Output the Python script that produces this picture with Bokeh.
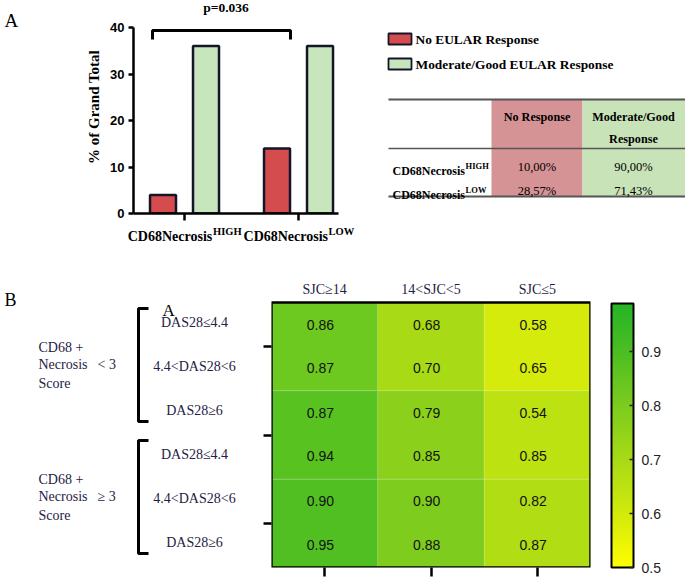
import numpy as np
from bokeh.plotting import figure
from bokeh.layouts import column, row
from bokeh.models import (Range1d, FactorRange, ColumnDataSource, FixedTicker, LinearAxis,
                          LinearColorMapper, ColorBar, PrintfTickFormatter)
from bokeh.transform import dodge, transform
from bokeh.core.properties import value
from bokeh.embed import file_html
from bokeh.resources import INLINE

# ---------------- data ----------------
groups = ["CD68Necrosis", "CD68Necrosis"]
group_sup = ["HIGH", "LOW"]
no_response = [4, 14]
good_response = [36, 36]
legend_labels = ["No EULAR Response", "Moderate/Good EULAR Response"]
p_text = "p=0.036"
y_ticks_a = [0, 10, 20, 30, 40]
table_header = [["No Response"], ["Moderate/Good", "Response"]]
table_no = ["10,00%", "28,57%"]
table_good = ["90,00%", "71,43%"]

sjc_labels = ["SJC\u226514", "14<SJC<5", "SJC\u22645"]
das_labels = ["DAS28\u22644.4", "4.4<DAS28<6", "DAS28\u22656"] * 2
score_labels = ["< 3", "\u2265 3"]
auc = [[0.86, 0.68, 0.58],
       [0.87, 0.70, 0.65],
       [0.87, 0.79, 0.54],
       [0.94, 0.85, 0.85],
       [0.90, 0.90, 0.82],
       [0.95, 0.88, 0.87]]
band_level = [[0.83, 0.70, 0.595],
              [0.875, 0.765, 0.65],
              [0.89, 0.795, 0.68]]
cbar_ticks = [0.5, 0.6, 0.7, 0.8, 0.9]
cbar_low, cbar_high = 0.5, 0.99

# ---------------- styles ----------------
RED = "#d44c4e"
GREEN = "#c8e6bc"
EDGE = "#15152a"
TRED = "#d69395"
TGREEN = "#c8e3b8"
NAVY = "#1f2244"
SERIF = "Liberation Serif"
SANS = "Liberation Sans"
NB = "\u00a0"

# bold Times em widths (for superscript placement)
EM_B = {'H': .778, 'I': .389, 'G': .778, 'L': .667, 'O': .778, 'W': 1.0}
MAIN_EM = 6.05


def canvas(width, height, xr, yr, **kw):
    p = figure(width=width, height=height, x_range=Range1d(*xr), y_range=Range1d(*yr),
               output_backend="svg", toolbar_location=None, min_border_left=0,
               min_border_right=0, min_border_top=0, min_border_bottom=0,
               x_axis_location=None, y_axis_location=None, **kw)
    p.grid.visible = False
    p.outline_line_color = None
    return p


def tick_only(ax, out, width=2.5):
    ax.major_label_text_color = None
    ax.major_label_standoff = 0
    ax.axis_line_color = None
    ax.major_tick_out = out
    ax.major_tick_in = 0
    ax.major_tick_line_width = width
    ax.major_tick_line_color = "black"
    ax.minor_tick_line_color = None


# ================= Panel A: letter =================
pL = canvas(40, 258, (0, 40), (213, 0))
pL.min_border_bottom = 45
pL.text(x=[4], y=[20], text=["A"], text_align="left", text_baseline="alphabetic",
        text_font=value(SERIF), text_font_size="19px", text_color="black")

# ================= Panel A: bar chart =================
PX = 114.0
pA = figure(width=320, height=258, x_range=Range1d(-0.443, 1.355), y_range=Range1d(0, 213 / 4.65),
            output_backend="svg", toolbar_location=None,
            min_border_left=93, min_border_right=22, min_border_top=0, min_border_bottom=45)
pA.grid.visible = False
pA.outline_line_color = None
xs = list(range(len(groups)))
srcA = ColumnDataSource(dict(x=xs, no=no_response, good=good_response))
pA.vbar(x=dodge('x', -21 / PX), top='no', width=26 / PX, source=srcA,
        fill_color=RED, line_color=EDGE, line_width=2.5)
pA.vbar(x=dodge('x', 22 / PX), top='good', width=26 / PX, source=srcA,
        fill_color=GREEN, line_color=EDGE, line_width=2.5)

ya = pA.yaxis[0]
ya.ticker = FixedTicker(ticks=y_ticks_a)
ya.bounds = (y_ticks_a[0], y_ticks_a[-1])
ya.axis_line_width = 2.5
ya.axis_line_color = "black"
ya.major_tick_line_width = 2.5
ya.major_tick_out = 5
ya.major_tick_in = 0
ya.minor_tick_line_color = None
ya.major_label_text_font = SANS
ya.major_label_text_font_style = "bold"
ya.major_label_text_font_size = "13px"
ya.major_label_text_color = "black"
ya.major_label_standoff = 4
ya.axis_label = "% of Grand Total"
ya.axis_label_text_font = SERIF
ya.axis_label_text_font_style = "bold"
ya.axis_label_text_font_size = "15px"
ya.axis_label_text_color = "black"
ya.axis_label_standoff = 5

# x labels: main text (padded so it sits left of the tick) + raised superscript
sup_w = [sum(EM_B[c] for c in s) * 10.5 for s in group_sup]
n_nb = [int(round(w / (0.25 * 14))) for w in sup_w]
main_w = MAIN_EM * 14
nb_sup = 0.25 * 10.5
m_sup = [int(round((main_w - n_nb[i] * 3.5 + 1 + sup_w[i]) / nb_sup)) for i in xs]

xa = pA.xaxis[0]
xa.ticker = FixedTicker(ticks=xs)
xa.major_label_overrides = {xs[i]: groups[i] + NB * n_nb[i] for i in xs}
xa.axis_line_width = 2.5
xa.axis_line_color = "black"
xa.major_tick_line_width = 2.5
xa.major_tick_out = 7
xa.major_tick_in = 0
xa.minor_tick_line_color = None
xa.major_label_standoff = 8
xa.major_label_text_font = SERIF
xa.major_label_text_font_style = "bold"
xa.major_label_text_font_size = "14px"
xa.major_label_text_color = "black"

sup_ax = LinearAxis(ticker=FixedTicker(ticks=xs),
                    major_label_overrides={xs[i]: NB * m_sup[i] + group_sup[i] for i in xs},
                    axis_line_color=None, major_tick_line_color=None, major_tick_out=0,
                    major_tick_in=0, minor_tick_line_color=None, major_label_standoff=-21,
                    major_label_text_font=SERIF, major_label_text_font_style="bold",
                    major_label_text_font_size="10.5px", major_label_text_color="black")
pA.add_layout(sup_ax, "below")

# significance bracket between the two groups
br_l = xs[0] - 31.5 / PX
br_r = xs[1] - 7.5 / PX
pA.multi_line(xs=[[br_l, br_l, br_r, br_r]], ys=[[37.4, 39.35, 39.35, 37.4]],
              line_color="black", line_width=3)
pA.text(x=[(br_l + br_r) / 2 + 0.04], y=[44.2], text=[p_text], text_align="center",
        text_baseline="alphabetic", text_font=value(SERIF), text_font_style="bold",
        text_font_size="13.5px", text_color="black")

# ================= Panel A: legend + table =================
pT = canvas(325, 258, (360, 685), (213, 0))
pT.min_border_bottom = 45
leg_fill = [RED, GREEN]
leg_y = [38.5 + 25 * i for i in range(len(legend_labels))]
pT.rect(x=[399.5] * 2, y=leg_y, width=23, height=11, fill_color=leg_fill,
        line_color=EDGE, line_width=1.8)
pT.text(x=[415] * 2, y=[v + 0.5 for v in leg_y], text=legend_labels, text_baseline="middle",
        text_align="left", text_font=value(SERIF), text_font_style="bold",
        text_font_size="13.4px", text_color="black")

pT.quad(left=[491, 582], right=[582, 690], top=[99, 99], bottom=[196, 196],
        fill_color=[TRED, TGREEN], line_color=None)
pT.segment(x0=[388, 388, 388], x1=[690, 690, 690], y0=[99, 148, 196], y1=[99, 148, 196],
           line_color="#555555", line_width=[2.2, 1.6, 2.0])
col_cx = [536.5, 633]
for j, lines in enumerate(table_header):
    ys_h = [116 + 22 * k for k in range(len(lines))]
    pT.text(x=[col_cx[j]] * len(lines), y=ys_h, text=lines, text_align="center",
            text_baseline="middle", text_font=value(SERIF), text_font_style="bold",
            text_font_size="12.2px", text_color="black")
row_y = [166, 190]
for i, (g, s) in enumerate(zip(groups, group_sup)):
    pT.text(x=[392], y=[row_y[i] + 4], text=[g], text_align="left", text_baseline="alphabetic",
            text_font=value(SERIF), text_font_style="bold", text_font_size="12px",
            text_color="black")
    pT.text(x=[392 + MAIN_EM * 12 + 0.5], y=[row_y[i] - 1], text=[s], text_align="left",
            text_baseline="alphabetic", text_font=value(SERIF), text_font_style="bold",
            text_font_size="8.5px", text_color="black")
pT.text(x=[col_cx[0]] * 2, y=row_y, text=table_no, text_align="center", text_baseline="middle",
        text_font=value(SERIF), text_font_size="12.5px", text_color="black")
pT.text(x=[col_cx[1]] * 2, y=row_y, text=table_good, text_align="center", text_baseline="middle",
        text_font=value(SERIF), text_font_size="12.5px", text_color="black")

# ================= Panel B: row labels =================
pBL = canvas(263, 322, (0, 263), (567, 258))
pBL.min_border_bottom = 13
pBL.text(x=[4], y=[299], text=["B"], text_align="left", text_baseline="alphabetic",
         text_font=value(SERIF), text_font_size="18px", text_color="black")
pBL.text(x=[162], y=[310], text=["A"], text_align="left", text_baseline="alphabetic",
         text_font=value(SERIF), text_font_size="17px", text_color="black")
row_ys = [322 + 44 * i for i in range(len(das_labels))]
pBL.text(x=[194] * len(das_labels), y=row_ys, text=das_labels, text_align="center",
         text_baseline="middle", text_font=value(SERIF), text_font_size="14px", text_color=NAVY)
for g, sl in enumerate(score_labels):
    cy = (row_ys[3 * g] + row_ys[3 * g + 2]) / 2 - 2
    pBL.text(x=[38, 38, 38], y=[cy - 17, cy, cy + 19], text=["CD68 +", "Necrosis", "Score"],
             text_align="left", text_baseline="middle", text_font=value(SERIF),
             text_font_size="14px", text_color=NAVY)
    pBL.text(x=[97], y=[cy], text=[sl], text_align="left", text_baseline="middle",
             text_font=value(SERIF), text_font_size="14px", text_color=NAVY)
    top = row_ys[3 * g] - 14
    bot = row_ys[3 * g + 2] + 11
    pBL.multi_line(xs=[[148, 138, 138, 148]], ys=[[top, top, bot, bot]],
                   line_color="black", line_width=3)

# ================= Panel B: heatmap =================
stops_v = [0.5, 0.6, 0.7, 0.8, 0.9, 0.99]
stops_c = ["#ffff00", "#d2ea0c", "#a8da16", "#7ccc1e", "#4cbe22", "#26b426"]
rgb = np.array([[int(c[k:k + 2], 16) for k in (1, 3, 5)] for c in stops_c], dtype=float)
vv = np.linspace(cbar_low, cbar_high, 256)
pal = ["#%02x%02x%02x" % tuple(int(round(np.interp(v, stops_v, rgb[:, k]))) for k in range(3))
       for v in vv]
mapper = LinearColorMapper(palette=pal, low=cbar_low, high=cbar_high)

BAND_PX = 265 / 3.0
pH = figure(width=422, height=322, x_range=FactorRange(*sjc_labels),
            y_range=Range1d(3, 3 - 309 / BAND_PX),
            output_backend="svg", toolbar_location=None,
            min_border_left=8, min_border_right=95, min_border_top=0, min_border_bottom=13)
pH.grid.visible = False
pH.outline_line_color = None

cx, cy_, lv = [], [], []
for b, rowv in enumerate(band_level):
    for j, v in enumerate(rowv):
        cx.append(sjc_labels[j]); cy_.append(b + 0.5); lv.append(v)
pH.rect(x='x', y='y', width=1, height=1,
        source=ColumnDataSource(dict(x=cx, y=cy_, level=lv)),
        fill_color=transform('level', mapper), line_color="white", line_alpha=0.12, line_width=1)
# heatmap border
pH.rect(x=[sjc_labels[1]], y=[1.5], width=3, height=3, fill_color=None,
        line_color="black", line_width=2.5)

tx, ty, tt = [], [], []
for r, rowv in enumerate(auc):
    for j, v in enumerate(rowv):
        tx.append(sjc_labels[j])
        ty.append(r // 2 + (0.25 if r % 2 == 0 else 0.74))
        tt.append("%.2f" % v)
pH.text(x=dodge('x', -0.04, range=pH.x_range), y='y', text='t',
        source=ColumnDataSource(dict(x=tx, y=ty, t=tt)), text_align="center",
        text_baseline="middle", text_font=value(SANS), text_font_size="14px", text_color="#111111")

# column headers above the cells
pH.text(x=sjc_labels, y=[-13 / BAND_PX] * 3, text=sjc_labels, text_align="center",
        text_baseline="middle", text_font=value(SERIF), text_font_size="14px", text_color=NAVY)

bx = pH.xaxis[0]
bx.major_label_overrides = {s: "" for s in sjc_labels}
tick_only(bx, 9)

ly = pH.yaxis[0]
ly.ticker = FixedTicker(ticks=[0.5, 1.5, 2.5])
ly.major_label_overrides = {0.5: "", 1.5: "", 2.5: ""}
tick_only(ly, 8)

cb = ColorBar(color_mapper=mapper, location=(340, 0), width=22, height=264, padding=0, margin=0,
              ticker=FixedTicker(ticks=cbar_ticks), formatter=PrintfTickFormatter(format="%.1f"),
              label_standoff=8, major_label_text_font=SANS, major_label_text_font_size="14px",
              major_label_text_color="#222222", major_tick_in=4, major_tick_out=0,
              major_tick_line_color="#222222", major_tick_line_width=1.5,
              minor_tick_line_color=None, bar_line_color="black", bar_line_width=2,
              border_line_color=None, background_fill_color=None)
pH.add_layout(cb)

layout = column(row(pL, pA, pT), row(pBL, pH))
open("out.html", "w").write(file_html(layout, INLINE))
